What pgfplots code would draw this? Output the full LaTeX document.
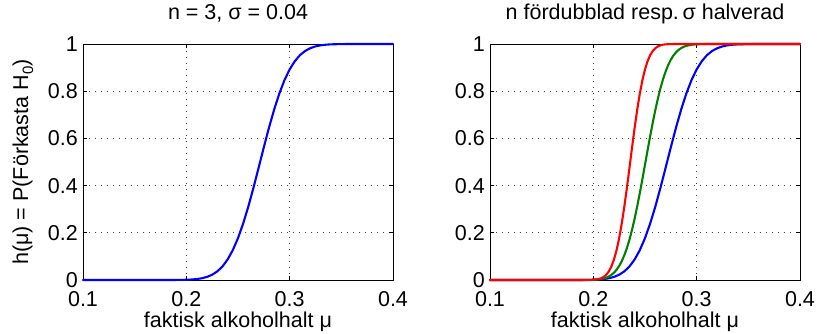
\documentclass[border=0pt]{standalone}
\usepackage{fontspec}
\setmainfont{Liberation Sans}
\usepackage{pgfplots}
\pgfplotsset{compat=1.18}
\definecolor{mblue}{RGB}{0,0,255}
\definecolor{mgreen}{RGB}{0,128,0}
\definecolor{mred}{RGB}{255,0,0}
\newcommand{\F}{\fontsize{21.5bp}{26bp}\selectfont}
\pgfplotsset{
  mstyle/.style={
    scale only axis, width=310bp, height=236bp,
    xmin=0.1, xmax=0.4, ymin=0, ymax=1,
    xtick={0.1,0.2,0.3,0.4}, xticklabels={0.1,0.2,0.3,0.4},
    ytick={0,0.2,0.4,0.6,0.8,1}, yticklabels={0,0.2,0.4,0.6,0.8,1},
    grid=major,
    grid style={black!75, line width=0.6bp, dash pattern=on 0.8bp off 5.2bp},
    axis line style={line width=0.8bp},
    major tick length=4bp,
    tick style={black, line width=0.6bp},
    /pgf/number format/assume math mode=true,
    tick label style={font=\F},
    xticklabel style={anchor=base, inner sep=0pt, yshift=-26bp},
    yticklabel style={anchor=east, inner sep=0pt, xshift=-5bp},
    title style={font=\F, at={(axis description cs:0.5,1.0805)}, anchor=base, inner sep=0pt},
    xlabel style={font=\F, at={(axis description cs:0.5,-0.203)}, anchor=base, inner sep=0pt},
    ylabel style={font=\F, at={(axis description cs:-0.194,0.5)}, anchor=center, rotate=0, inner sep=0pt},
    clip=false,
    every axis plot/.append style={line width=2.1bp, line join=round, line cap=round},
  }
}
\begin{document}
\begin{tikzpicture}
\path[use as bounding box] (0,0) rectangle (833bp,334bp);
% left panel
\begin{axis}[mstyle, at={(83bp,54bp)}, anchor=south west,
  title={n = 3, σ = 0.04},
  xlabel={faktisk alkoholhalt μ},
  ylabel={h(μ) = P(Förkasta H\raisebox{-0.45ex}{\fontsize{15bp}{15bp}\selectfont 0})}]
\addplot[mblue] coordinates {(0.1,0) (0.17,0) (0.18,0.00004) (0.19,0.00021) (0.195,0.00047) (0.2,0.00100) (0.205,0.00203) (0.21,0.00394) (0.215,0.00733) (0.22,0.01307) (0.225,0.02234) (0.23,0.03663) (0.235,0.05766) (0.24,0.08721) (0.245,0.12679) (0.25,0.17744) (0.255,0.23926) (0.26,0.31130) (0.265,0.39140) (0.27,0.47640) (0.275,0.56253) (0.28,0.64575) (0.285,0.72253) (0.29,0.79013) (0.295,0.84694) (0.3,0.89250) (0.305,0.92735) (0.31,0.95283) (0.315,0.97058) (0.32,0.98239) (0.325,0.98990) (0.33,0.99444) (0.335,0.99707) (0.34,0.99852) (0.35,0.99967) (0.36,0.99994) (0.37,1) (0.4,1)};
\end{axis}
% right panel
\begin{axis}[mstyle, at={(490bp,54bp)}, anchor=south west,
  title={n fördubblad resp.\,σ halverad},
  xlabel={faktisk alkoholhalt μ}]
\addplot[mblue] coordinates {(0.1,0) (0.17,0) (0.18,0.00004) (0.19,0.00021) (0.195,0.00047) (0.2,0.00100) (0.205,0.00203) (0.21,0.00394) (0.215,0.00733) (0.22,0.01307) (0.225,0.02234) (0.23,0.03663) (0.235,0.05766) (0.24,0.08721) (0.245,0.12679) (0.25,0.17744) (0.255,0.23926) (0.26,0.31130) (0.265,0.39140) (0.27,0.47640) (0.275,0.56253) (0.28,0.64575) (0.285,0.72253) (0.29,0.79013) (0.295,0.84694) (0.3,0.89250) (0.305,0.92735) (0.31,0.95283) (0.315,0.97058) (0.32,0.98239) (0.325,0.98990) (0.33,0.99444) (0.335,0.99707) (0.34,0.99852) (0.35,0.99967) (0.36,0.99994) (0.37,1) (0.4,1)};
\addplot[mgreen] coordinates {(0.1,0) (0.18,0) (0.19,0.00011) (0.195,0.00034) (0.2,0.00100) (0.2025,0.00166) (0.205,0.00268) (0.2075,0.00426) (0.21,0.00661) (0.2125,0.01004) (0.215,0.01494) (0.2175,0.02176) (0.22,0.03106) (0.2225,0.04341) (0.225,0.05946) (0.2275,0.07984) (0.23,0.10509) (0.2325,0.13567) (0.235,0.17185) (0.2375,0.21366) (0.24,0.26085) (0.2425,0.31291) (0.245,0.36899) (0.2475,0.42802) (0.25,0.48868) (0.2525,0.54962) (0.255,0.60942) (0.2575,0.66673) (0.26,0.72040) (0.2625,0.76947) (0.265,0.81333) (0.2675,0.85160) (0.27,0.88423) (0.2725,0.91140) (0.275,0.93352) (0.2775,0.95111) (0.28,0.96476) (0.2825,0.97511) (0.285,0.98278) (0.2875,0.98834) (0.29,0.99226) (0.295,0.99681) (0.3,0.99879) (0.305,0.99958) (0.31,0.99987) (0.32,1) (0.4,1)};
\addplot[mred] coordinates {(0.1,0) (0.185,0) (0.19,0.00004) (0.195,0.00021) (0.1975,0.00047) (0.2,0.00100) (0.2025,0.00203) (0.205,0.00394) (0.2075,0.00733) (0.21,0.01307) (0.2125,0.02234) (0.215,0.03663) (0.2175,0.05766) (0.22,0.08721) (0.2225,0.12679) (0.225,0.17744) (0.2275,0.23926) (0.23,0.31130) (0.2325,0.39140) (0.235,0.47640) (0.2375,0.56253) (0.24,0.64575) (0.2425,0.72253) (0.245,0.79013) (0.2475,0.84694) (0.25,0.89250) (0.2525,0.92735) (0.255,0.95283) (0.2575,0.97058) (0.26,0.98239) (0.2625,0.98990) (0.265,0.99444) (0.2675,0.99707) (0.27,0.99852) (0.275,0.99967) (0.28,0.99994) (0.29,1) (0.4,1)};
\end{axis}
\end{tikzpicture}
\end{document}
